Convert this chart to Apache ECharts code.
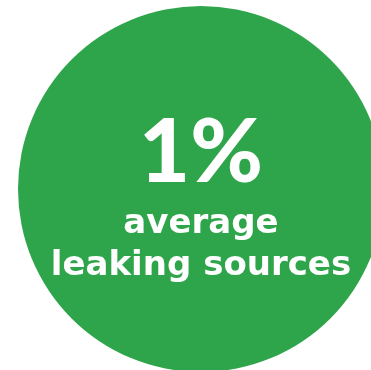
<!DOCTYPE html>
<html>
<head>
<meta charset="utf-8">
<script src="https://cdn.jsdelivr.net/npm/echarts@6/dist/echarts.min.js"></script>
<style>
  html, body { margin: 0; padding: 0; background: #fff; }
  #chart { width: 371px; height: 370px; }
</style>
</head>
<body>
<div id="chart"></div>
<script>
var statValue = ['1%'];
var captionLines = ['average', 'leaking sources'];
var shares = [1];

var chart = echarts.init(document.getElementById('chart'));
var option = {
  animation: false,
  series: [{
    type: 'pie',
    center: [201, 189],
    radius: [0, 183],
    silent: true,
    itemStyle: { color: '#2ea54a' },
    label: {
      show: true,
      position: 'center',
      offset: [0, 7],
      color: '#fff',
      formatter: function () {
        return '{big|' + statValue[0] + '}\n' +
          captionLines.map(function (t) { return '{small|' + t + '}'; }).join('\n');
      },
      rich: {
        big: { fontSize: 88, lineHeight: 98, fontWeight: 900, color: '#fff', fontFamily: 'Lato' },
        small: { fontSize: 34, lineHeight: 42, fontWeight: 'bold', color: '#fff', fontFamily: 'DejaVu Sans' }
      }
    },
    labelLine: { show: false },
    data: shares.map(function (v) { return { value: v, name: 'leaking' }; })
  }]
};
chart.setOption(option);
</script>
</body>
</html>
